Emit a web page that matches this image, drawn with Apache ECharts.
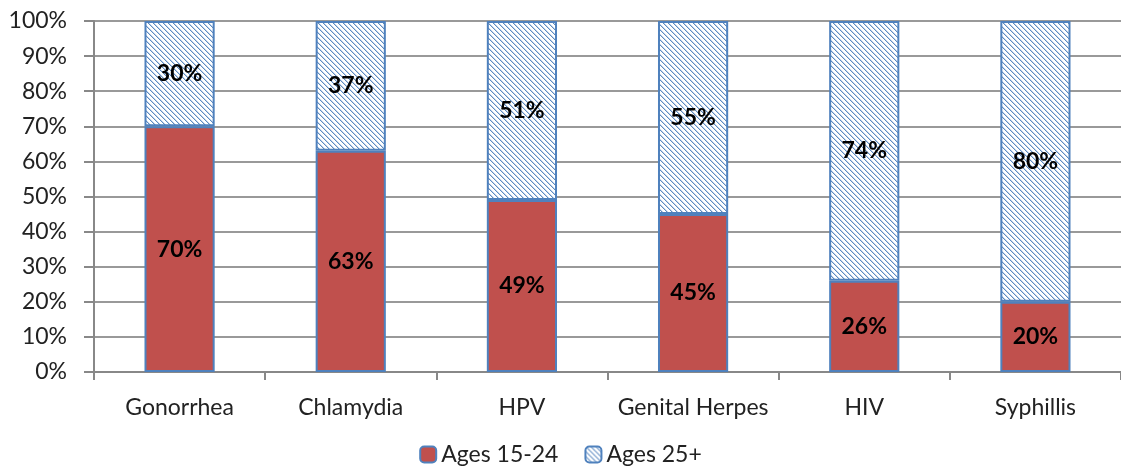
<!DOCTYPE html>
<html>
<head>
<meta charset="utf-8">
<script src="https://cdn.jsdelivr.net/npm/echarts@6/dist/echarts.min.js"></script>
<style>
	html, body { margin: 0; padding: 0; background: #fff; }
	#chart { width: 1121px; height: 468px; }
</style>
</head>
<body>
<div id="chart"></div>
<script>
var categories = ['Gonorrhea', 'Chlamydia', 'HPV', 'Genital Herpes', 'HIV', 'Syphillis'];
var young = [70, 63, 49, 45, 26, 20];
var older = [30, 37, 51, 55, 74, 80];
var yTicks = [0, 10, 20, 30, 40, 50, 60, 70, 80, 90, 100];

// diagonal hatch tile for the 25+ series
function hatch() {
	var n = 5;
	var c = document.createElement('canvas');
	c.width = n;
	c.height = n;
	var ctx = c.getContext('2d');
	ctx.fillStyle = '#fff';
	ctx.fillRect(0, 0, n, n);
	for (var y = 0; y < n; y++) {
		for (var x = 0; x < n; x++) {
			var d = ((x - y) % n + n) % n;
			if (d === 0) {
				ctx.fillStyle = '#5d8bc2';
				ctx.fillRect(x, y, 1, 1);
			} else if (d === 1) {
				ctx.fillStyle = '#c3d4ea';
				ctx.fillRect(x, y, 1, 1);
			}
		}
	}
	return { image: c, repeat: 'repeat' };
}

var font = 'Lato, "Open Sans", sans-serif';
var myChart = echarts.init(document.getElementById('chart'));
var option = {
	animation: false,
	textStyle: { fontFamily: font },
	grid: {
		left: 94,
		top: 21,
		width: 1032,
		height: 351
	},
	legend: {
		bottom: -3,
		left: 'center',
		itemWidth: 16,
		itemHeight: 16,
		itemGap: 26,
		textStyle: { fontSize: 23, color: '#222', fontFamily: font },
		data: ['Ages 15-24', 'Ages 25+']
	},
	xAxis: {
		type: 'category',
		data: categories,
		axisLine: { lineStyle: { color: '#888', width: 2 } },
		axisTick: { show: true, interval: 0, length: 8, lineStyle: { color: '#888', width: 2 } },
		axisLabel: { interval: 0, fontSize: 23, color: '#222', margin: 24 }
	},
	yAxis: {
		type: 'value',
		min: 0,
		max: 100,
		interval: 10,
		axisLine: { show: true, lineStyle: { color: '#888', width: 2 } },
		axisTick: { show: true, length: 10, lineStyle: { color: '#888', width: 2 } },
		splitLine: { lineStyle: { color: '#999', width: 2 } },
		axisLabel: {
			fontSize: 23,
			color: '#222',
			margin: 27,
			formatter: function(v) {
				return yTicks.indexOf(v) >= 0 ? v + '%' : '';
			}
		}
	},
	series: [{
		name: 'Ages 15-24',
		type: 'bar',
		stack: 'total',
		barWidth: '41%',
		data: young,
		itemStyle: { color: '#c0504d', borderColor: '#4f81bd', borderWidth: 2 },
		label: {
			show: true,
			position: 'inside',
			fontSize: 23,
			fontWeight: 'bold',
			color: '#000',
			formatter: '{c}%'
		}
	}, {
		name: 'Ages 25+',
		type: 'bar',
		stack: 'total',
		data: older,
		itemStyle: { color: hatch(), borderColor: '#4f81bd', borderWidth: 2 },
		label: {
			show: true,
			position: 'inside',
			fontSize: 23,
			fontWeight: 'bold',
			color: '#000',
			formatter: '{c}%'
		}
	}]
};
myChart.setOption(option);
</script>
</body>
</html>
